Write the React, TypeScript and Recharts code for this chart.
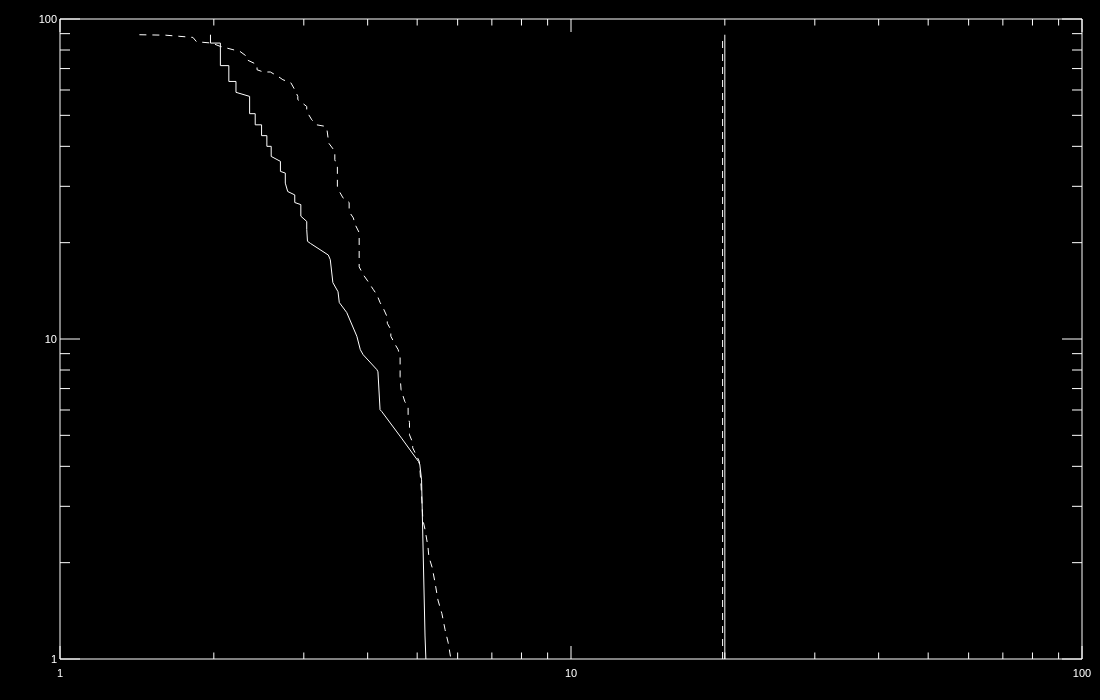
/**
 * Log-log cumulative curves (solid vs dashed) with vertical markers near x=20
 */

import { LineChart, Line, XAxis, YAxis } from 'recharts'

// tick values for both log axes (one decade = 1..9 steps)
const logTicks = [1, 2, 3, 4, 5, 6, 7, 8, 9, 10, 20, 30, 40, 50, 60, 70, 80, 90, 100]
const majorTicks = [1, 10, 100]
const majorLabels = ['1', '10', '100']

// solid curve
const solidX = [
  1.97, 1.97, 2.06, 2.06, 2.14, 2.14, 2.21, 2.21, 2.35, 2.35, 2.41, 2.41, 2.48, 2.48, 2.54, 2.54,
  2.59, 2.59, 2.7, 2.7, 2.76, 2.76, 2.79, 2.88, 2.88, 2.96, 2.96, 3.04, 3.04, 3.05, 3.09, 3.35,
  3.38, 3.42, 3.5, 3.52, 3.64, 3.81, 3.87, 3.92, 4.17, 4.19, 4.23, 4.26, 4.66, 5.03, 5.06, 5.1,
  5.18, 5.2,
]
const solidY = [
  89.3, 84.1, 84.1, 71.5, 71.5, 63.8, 63.8, 59.0, 57.3, 50.6, 50.6, 46.7, 46.7, 43.2, 43.2, 40.0,
  40.0, 37.2, 35.9, 33.4, 33.0, 30.7, 28.9, 28.2, 26.7, 26.3, 24.2, 23.3, 22.0, 20.2, 19.9, 18.3,
  17.7, 15.0, 14.05, 13.0, 12.1, 10.2, 9.26, 8.93, 8.02, 7.9, 6.01, 5.94, 4.9, 4.14, 4.05, 3.63,
  1.18, 1.0,
]

// dashed curve
const dashedX = [
  1.43, 1.61, 1.82, 1.85, 1.98, 2.06, 2.18, 2.25, 2.32, 2.32, 2.43, 2.43, 2.5, 2.58, 2.67, 2.73,
  2.83, 2.88, 2.92, 2.92, 3.04, 3.04, 3.11, 3.18, 3.3, 3.33, 3.35, 3.35, 3.45, 3.45, 3.49, 3.49,
  3.53, 3.58, 3.68, 3.68, 3.75, 3.78, 3.85, 3.85, 3.92, 4.01, 4.1, 4.17, 4.23, 4.29, 4.37, 4.37,
  4.44, 4.44, 4.53, 4.59, 4.63, 4.63, 4.65, 4.73, 4.8, 4.8, 4.83, 4.83, 4.9, 4.9, 5.05, 5.09,
  5.13, 5.18, 5.25, 5.27, 5.35, 5.42, 5.49, 5.59, 5.67, 5.75, 5.82,
]
const dashedY = [
  89.3, 89.0, 87.6, 84.9, 84.1, 82.1, 80.2, 79.2, 76.4, 74.6, 72.0, 69.4, 68.3, 68.3, 66.2, 64.6,
  63.2, 60.1, 57.3, 56.0, 53.3, 51.4, 48.4, 46.7, 46.2, 45.1, 42.0, 41.1, 38.6, 36.3, 34.6, 30.0,
  28.7, 27.6, 26.7, 25.0, 23.9, 22.8, 21.5, 16.8, 15.9, 15.1, 14.3, 13.75, 13.0, 12.5, 11.7, 11.2,
  10.7, 10.2, 9.6, 9.26, 8.74, 7.62, 6.94, 6.37, 6.14, 5.72, 5.48, 5.02, 4.74, 4.57, 4.14, 3.45,
  2.72, 2.54, 2.24, 2.09, 1.93, 1.73, 1.53, 1.385, 1.234, 1.124, 1.0,
]

// vertical markers
const solidMarkX = [20, 20]
const solidMarkY = [1, 89.3]
const dashedMarkX = [19.8, 19.8]
const dashedMarkY = [1, 88.2]

const zip = (xs: number[], ys: number[]) => xs.map((x, i) => ({ x, y: ys[i] }))

const FG = '#ffffff'
const FONT = '"Liberation Sans", Arial, sans-serif'

const labelOf = (v: number) => {
  const i = majorTicks.indexOf(v)
  return i >= 0 ? majorLabels[i] : null
}

// ticks drawn by hand: IDL-style inward ticks, long on decades
const BottomTick = ({ x, y, payload }: any) => {
  const label = labelOf(payload.value)
  const len = label ? 13 : 6.5
  return (
    <g>
      <line x1={x} y1={y} x2={x} y2={y - len} stroke={FG} />
      {label && (
        <text x={x} y={y + 18} textAnchor="middle" fill={FG} fontSize={11} fontFamily={FONT}>
          {label}
        </text>
      )}
    </g>
  )
}

const TopTick = ({ x, y, payload }: any) => {
  const len = labelOf(payload.value) ? 13 : 6.5
  return <line x1={x} y1={y} x2={x} y2={y + len} stroke={FG} />
}

const LeftTick = ({ x, y, payload }: any) => {
  const label = labelOf(payload.value)
  const len = label ? 20 : 10
  return (
    <g>
      <line x1={x} y1={y} x2={x + len} y2={y} stroke={FG} />
      {label && (
        <text x={x - 3} y={y + 4} textAnchor="end" fill={FG} fontSize={11} fontFamily={FONT}>
          {label}
        </text>
      )}
    </g>
  )
}

const RightTick = ({ x, y, payload }: any) => {
  const len = labelOf(payload.value) ? 20 : 10
  return <line x1={x} y1={y} x2={x - len} y2={y} stroke={FG} />
}

export default function App() {
  return (
    <div style={{ position: 'fixed', left: 0, top: 0, width: 1100, height: 700, background: '#000' }}>
      {/* own transparent layer so text gets grayscale antialiasing */}
      <div style={{ width: 1100, height: 700, willChange: 'transform' }}>
        <LineChart width={1100} height={700} margin={{ top: 0, right: 0, bottom: 0, left: 0 }}>
          <XAxis
            xAxisId="bottom"
            type="number"
            dataKey="x"
            scale="log"
            domain={[1, 100]}
            allowDataOverflow
            ticks={logTicks}
            interval={0}
            height={41}
            tickSize={0}
            tickMargin={0}
            axisLine={{ stroke: FG }}
            tickLine={false}
            tick={<BottomTick />}
          />
          <XAxis
            xAxisId="top"
            orientation="top"
            type="number"
            dataKey="x"
            scale="log"
            domain={[1, 100]}
            allowDataOverflow
            ticks={logTicks}
            interval={0}
            height={19}
            tickSize={0}
            tickMargin={0}
            axisLine={{ stroke: FG }}
            tickLine={false}
            tick={<TopTick />}
          />
          <YAxis
            yAxisId="left"
            type="number"
            dataKey="y"
            scale="log"
            domain={[1, 100]}
            allowDataOverflow
            ticks={logTicks}
            interval={0}
            width={60}
            tickSize={0}
            tickMargin={0}
            axisLine={{ stroke: FG }}
            tickLine={false}
            tick={<LeftTick />}
          />
          <YAxis
            yAxisId="right"
            orientation="right"
            type="number"
            dataKey="y"
            scale="log"
            domain={[1, 100]}
            allowDataOverflow
            ticks={logTicks}
            interval={0}
            width={18}
            tickSize={0}
            tickMargin={0}
            axisLine={{ stroke: FG }}
            tickLine={false}
            tick={<RightTick />}
          />
          <Line
            xAxisId="bottom"
            yAxisId="left"
            data={zip(solidX, solidY)}
            dataKey="y"
            type="linear"
            stroke={FG}
            strokeWidth={1}
            dot={false}
            isAnimationActive={false}
          />
          <Line
            xAxisId="bottom"
            yAxisId="left"
            data={zip(dashedX, dashedY)}
            dataKey="y"
            type="linear"
            stroke={FG}
            strokeWidth={1}
            strokeDasharray="7 6"
            dot={false}
            isAnimationActive={false}
          />
          <Line
            xAxisId="top"
            yAxisId="right"
            data={zip(solidMarkX, solidMarkY)}
            dataKey="y"
            type="linear"
            stroke={FG}
            strokeWidth={1}
            dot={false}
            isAnimationActive={false}
          />
          <Line
            xAxisId="top"
            yAxisId="right"
            data={zip(dashedMarkX, dashedMarkY)}
            dataKey="y"
            type="linear"
            stroke={FG}
            strokeWidth={1}
            strokeDasharray="7 6"
            dot={false}
            isAnimationActive={false}
          />
        </LineChart>
      </div>
    </div>
  )
}
